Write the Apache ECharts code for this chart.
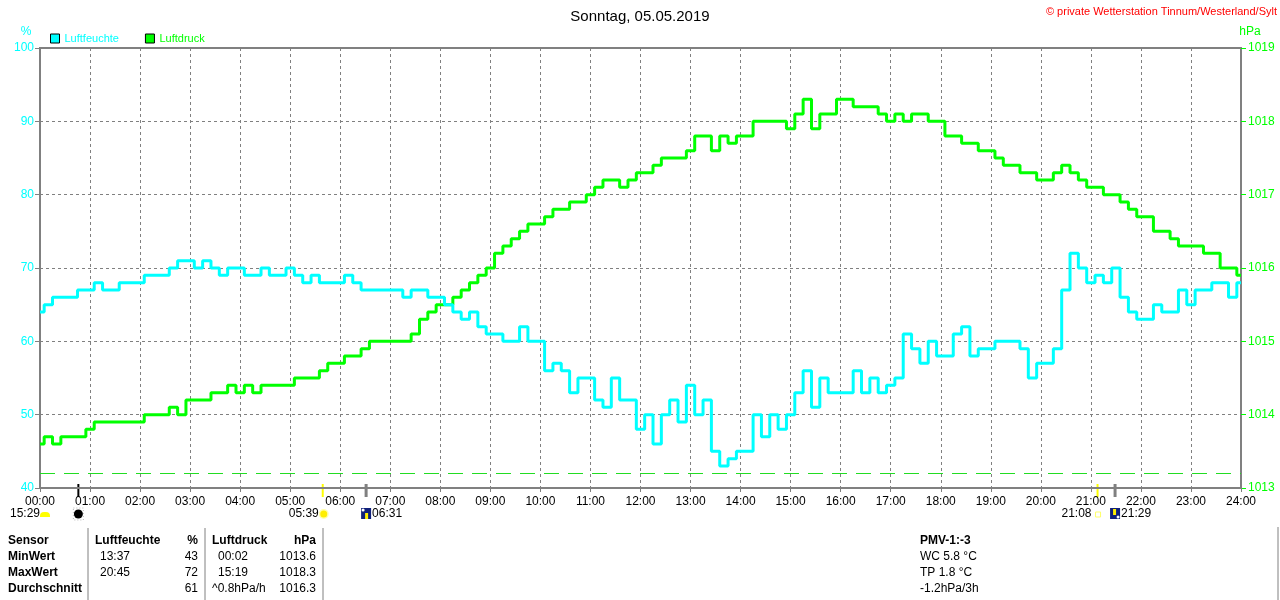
<!DOCTYPE html>
<html>
<head>
<meta charset="utf-8">
<title>Sonntag, 05.05.2019</title>
<script src="https://cdn.jsdelivr.net/npm/echarts@6/dist/echarts.min.js"></script>
<style>
  html, body { margin: 0; padding: 0; background: #fff; }
  #main { width: 1280px; height: 600px; }
</style>
</head>
<body>
<div id="main"></div>
<script>
// Messwerte alle 10 Minuten, 00:00 .. 24:00
const times = [];
for (let m = 0; m <= 1440; m += 10) times.push(m);

const luftfeuchte = [
  64, 65, 66, 66, 66, 67,
  67, 68, 67, 67, 68, 68,
  68, 69, 69, 69, 70, 71,
  71, 70, 71, 70, 69, 70,
  70, 69, 69, 70, 69, 69,
  70, 69, 68, 69, 68, 68,
  68, 69, 68, 67, 67, 67,
  67, 67, 66, 67, 67, 66,
  66, 65, 64, 63, 64, 62,
  61, 61, 60, 60, 62, 60,
  60, 56, 57, 56, 53, 55,
  55, 52, 51, 55, 52, 52,
  48, 50, 46, 50, 52, 49,
  54, 50, 52, 45, 43, 44,
  45, 45, 50, 47, 50, 48,
  50, 53, 56, 51, 55, 53,
  53, 53, 56, 53, 55, 53,
  54, 55, 61, 59, 57, 60,
  58, 58, 61, 62, 58, 59,
  59, 60, 60, 60, 59, 55,
  57, 57, 59, 67, 72, 70,
  68, 69, 68, 70, 66, 64,
  63, 63, 65, 64, 64, 67,
  65, 67, 67, 68, 68, 66,
  68
];

const luftdruck = [
  1013.6, 1013.7, 1013.6, 1013.7, 1013.7, 1013.7,
  1013.8, 1013.9, 1013.9, 1013.9, 1013.9, 1013.9,
  1013.9, 1014.0, 1014.0, 1014.0, 1014.1, 1014.0,
  1014.2, 1014.2, 1014.2, 1014.3, 1014.3, 1014.4,
  1014.3, 1014.4, 1014.3, 1014.4, 1014.4, 1014.4,
  1014.4, 1014.5, 1014.5, 1014.5, 1014.6, 1014.7,
  1014.7, 1014.8, 1014.8, 1014.9, 1015.0, 1015.0,
  1015.0, 1015.0, 1015.0, 1015.1, 1015.3, 1015.4,
  1015.5, 1015.5, 1015.6, 1015.7, 1015.8, 1015.9,
  1016.0, 1016.2, 1016.3, 1016.4, 1016.5, 1016.6,
  1016.6, 1016.7, 1016.8, 1016.8, 1016.9, 1016.9,
  1017.0, 1017.1, 1017.2, 1017.2, 1017.1, 1017.2,
  1017.3, 1017.3, 1017.4, 1017.5, 1017.5, 1017.5,
  1017.6, 1017.8, 1017.8, 1017.6, 1017.8, 1017.7,
  1017.8, 1017.8, 1018.0, 1018.0, 1018.0, 1018.0,
  1017.9, 1018.1, 1018.3, 1017.9, 1018.1, 1018.1,
  1018.3, 1018.3, 1018.2, 1018.2, 1018.2, 1018.1,
  1018.0, 1018.1, 1018.0, 1018.1, 1018.1, 1018.0,
  1018.0, 1017.8, 1017.8, 1017.7, 1017.7, 1017.6,
  1017.6, 1017.5, 1017.4, 1017.4, 1017.3, 1017.3,
  1017.2, 1017.2, 1017.3, 1017.4, 1017.3, 1017.2,
  1017.1, 1017.1, 1017.0, 1017.0, 1016.9, 1016.8,
  1016.7, 1016.7, 1016.5, 1016.5, 1016.4, 1016.3,
  1016.3, 1016.3, 1016.2, 1016.2, 1016.0, 1016.0,
  1015.9
];

// Referenzlinie Luftdruck
const normalDruck = 1013.2;

// Astro-Ereignisse (Minuten seit 00:00)
const mondPhase = 46;          // 00:46
const sonnenAufgang = 339;     // 05:39
const daemmerungMorgen = 391;  // 06:31
const sonnenUntergang = 1268;  // 21:08
const daemmerungAbend = 1289;  // 21:29

// Tabelle unten
const tabelleZeilen = ['Sensor', 'MinWert', 'MaxWert', 'Durchschnitt'];
const feuchteSpalte = [['Luftfeuchte', '%'], ['13:37', '43'], ['20:45', '72'], ['', '61']];
const druckSpalte = [['Luftdruck', 'hPa'], ['00:02', '1013.6'], ['15:19', '1018.3'], ['^0.8hPa/h', '1016.3']];
const pmvZeilen = ['PMV-1:-3', 'WC 5.8 °C', 'TP 1.8 °C', '-1.2hPa/3h'];

const FONT = 'Liberation Sans, Arial, sans-serif';
const CYAN = '#00ffff';
const GREEN = '#00ff00';
const GRAU = '#808080';

const pad = n => (n < 10 ? '0' + n : '' + n);

const chart = echarts.init(document.getElementById('main'));

chart.setOption({
  animation: false,
  backgroundColor: '#ffffff',
  textStyle: { fontFamily: FONT },
  title: {
    text: 'Sonntag, 05.05.2019',
    left: 'center',
    top: 4,
    textStyle: { fontSize: 15, fontWeight: 'normal', color: '#000', fontFamily: FONT }
  },
  legend: {
    left: 50,
    top: 33,
    padding: 0,
    itemWidth: 9,
    itemHeight: 9,
    itemGap: 26,
    icon: 'rect',
    selectedMode: false,
    textStyle: { fontSize: 11, fontFamily: FONT },
    data: [
      { name: 'Luftfeuchte', textStyle: { color: CYAN }, itemStyle: { color: CYAN, borderColor: '#000', borderWidth: 1 } },
      { name: 'Luftdruck', textStyle: { color: GREEN }, itemStyle: { color: GREEN, borderColor: '#000', borderWidth: 1 } }
    ]
  },
  grid: {
    left: 40, right: 39, top: 48, bottom: 112,
    show: true, borderColor: GRAU, borderWidth: 2
  },
  xAxis: {
    type: 'value',
    min: 0, max: 1440, interval: 60,
    axisLine: { lineStyle: { color: GRAU, width: 2 } },
    axisTick: { show: true, length: 4, lineStyle: { color: GRAU } },
    axisLabel: {
      color: '#000', fontSize: 12, margin: 8, fontFamily: FONT,
      formatter: v => pad(v / 60) + ':00'
    },
    splitLine: { show: true, lineStyle: { color: GRAU, type: [3, 3], width: 1 } }
  },
  yAxis: [
    {
      type: 'value', min: 40, max: 100, interval: 10,
      axisLine: { show: true, lineStyle: { color: GRAU, width: 2 } },
      axisTick: { show: true, length: 5, lineStyle: { color: GRAU } },
      axisLabel: { color: CYAN, fontSize: 12, margin: 6, fontFamily: FONT },
      splitLine: { show: true, lineStyle: { color: GRAU, type: [3, 3], width: 1 } }
    },
    {
      type: 'value', min: 1013, max: 1019, interval: 1,
      position: 'right',
      axisLine: { show: true, lineStyle: { color: GRAU, width: 2 } },
      axisTick: { show: true, length: 5, lineStyle: { color: GREEN } },
      axisLabel: { color: GREEN, fontSize: 12, margin: 7, fontFamily: FONT, formatter: v => String(v) },
      splitLine: { show: false }
    }
  ],
  series: [
    {
      name: 'Luftdruck',
      type: 'line',
      yAxisIndex: 1,
      step: 'middle',
      showSymbol: false,
      color: GREEN,
      lineStyle: { color: GREEN, width: 3 },
      data: times.map((t, i) => [t, luftdruck[i]]),
      markLine: {
        silent: true,
        symbol: 'none',
        label: { show: false },
        itemStyle: { color: '#22dd22' },
        lineStyle: { color: '#22dd22', type: [15, 9], width: 1 },
        emphasis: { disabled: true },
        data: [{ yAxis: normalDruck }]
      }
    },
    {
      name: 'Luftfeuchte',
      type: 'line',
      yAxisIndex: 0,
      step: 'middle',
      showSymbol: false,
      color: CYAN,
      lineStyle: { color: CYAN, width: 3 },
      data: times.map((t, i) => [t, luftfeuchte[i]])
    }
  ]
});

// Zusätzliche Elemente (Beschriftungen, Astro-Marker, Tabelle)
const px = m => chart.convertToPixel({ xAxisIndex: 0 }, m);
const yAxisBottom = 488;
const g = [];

const text = (x, y, str, opt = {}) => g.push({
  type: 'text', x, y, silent: true,
  style: Object.assign({
    text: str, fill: '#000', font: '12px ' + FONT,
    textAlign: 'left', textVerticalAlign: 'middle'
  }, opt)
});
const line = (x1, y1, x2, y2, color, width) => g.push({
  type: 'line', silent: true,
  shape: { x1, y1, x2, y2 },
  style: { stroke: color, lineWidth: width }
});

// Achsentitel
text(26, 32, '%', { fill: CYAN, font: '12px ' + FONT, textAlign: 'center' });
text(1250, 32, 'hPa', { fill: GREEN, font: '12px ' + FONT, textAlign: 'center' });
// Copyright
text(1277, 12, '© private Wetterstation Tinnum/Westerland/Sylt', { fill: '#ff0000', font: '11px ' + FONT, textAlign: 'right' });

// Astro-Ticks an der Zeitachse
line(px(mondPhase), yAxisBottom - 4, px(mondPhase), yAxisBottom + 9, '#000', 2);
line(px(sonnenAufgang), yAxisBottom - 4, px(sonnenAufgang), yAxisBottom + 9, '#ffff00', 2);
line(px(daemmerungMorgen), yAxisBottom - 4, px(daemmerungMorgen), yAxisBottom + 9, GRAU, 3);
line(px(sonnenUntergang), yAxisBottom - 4, px(sonnenUntergang), yAxisBottom + 9, '#ffff00', 2);
line(px(daemmerungAbend), yAxisBottom - 4, px(daemmerungAbend), yAxisBottom + 9, GRAU, 3);

const astroY = 514;
// Mondaufgang Vortag 15:29
text(10, astroY, '15:29');
g.push({ type: 'rect', silent: true, shape: { x: 40, y: astroY - 2, width: 10, height: 5, r: [4, 4, 0, 0] }, style: { fill: '#ffff00' } });
// Mondphase
g.push({ type: 'rect', silent: true, shape: { x: px(mondPhase) - 5, y: astroY - 6, width: 10, height: 12 }, style: { fill: 'none', stroke: '#bbbbbb', lineWidth: 1, lineDash: [1, 2] } });
g.push({ type: 'circle', silent: true, shape: { cx: px(mondPhase), cy: astroY, r: 4.5 }, style: { fill: '#000' } });
// Sonnenaufgang
text(px(sonnenAufgang) - 4, astroY, '05:39', { textAlign: 'right' });
g.push({ type: 'circle', silent: true, shape: { cx: px(sonnenAufgang) + 1, cy: astroY, r: 5 }, style: { fill: '#ffffaa' } });
g.push({ type: 'circle', silent: true, shape: { cx: px(sonnenAufgang) + 1, cy: astroY, r: 3.5 }, style: { fill: '#ffee00' } });
// Dämmerung morgens
g.push({ type: 'rect', silent: true, shape: { x: px(daemmerungMorgen) - 5, y: astroY - 6, width: 10, height: 11 }, style: { fill: '#10207a' } });
g.push({ type: 'rect', silent: true, shape: { x: px(daemmerungMorgen) - 1, y: astroY - 1, width: 3, height: 6 }, style: { fill: '#ffee00' } });
g.push({ type: 'circle', silent: true, shape: { cx: px(daemmerungMorgen) - 3, cy: astroY - 4, r: 1.5 }, style: { fill: '#ffffff' } });
text(px(daemmerungMorgen) + 6, astroY, '06:31');
// Sonnenuntergang
text(px(sonnenUntergang) - 6, astroY, '21:08', { textAlign: 'right' });
g.push({ type: 'rect', silent: true, shape: { x: px(sonnenUntergang) - 2, y: astroY - 2, width: 5, height: 5 }, style: { fill: 'none', stroke: '#ffff66', lineWidth: 1 } });
// Dämmerung abends
g.push({ type: 'rect', silent: true, shape: { x: px(daemmerungAbend) - 5, y: astroY - 6, width: 10, height: 11 }, style: { fill: '#10207a' } });
g.push({ type: 'rect', silent: true, shape: { x: px(daemmerungAbend) - 2, y: astroY - 5, width: 3, height: 6 }, style: { fill: '#ffee00' } });
g.push({ type: 'circle', silent: true, shape: { cx: px(daemmerungAbend) + 3, cy: astroY + 3, r: 1.5 }, style: { fill: '#ffffff' } });
text(px(daemmerungAbend) + 6, astroY, '21:29');

// Tabelle
const zeilenY = [541, 557, 573, 589];
const bold = 'bold 12px ' + FONT;
tabelleZeilen.forEach((t, i) => text(8, zeilenY[i], t, { font: bold }));
feuchteSpalte.forEach((z, i) => {
  const f = i === 0 ? bold : '12px ' + FONT;
  text(i === 0 ? 95 : 100, zeilenY[i], z[0], { font: f });
  text(198, zeilenY[i], z[1], { font: f, textAlign: 'right' });
});
druckSpalte.forEach((z, i) => {
  const f = i === 0 ? bold : '12px ' + FONT;
  const lx = (i === 0 || i === 3) ? 212 : 218;
  text(lx, zeilenY[i], z[0], { font: f });
  text(316, zeilenY[i], z[1], { font: f, textAlign: 'right' });
});
pmvZeilen.forEach((t, i) => text(920, zeilenY[i], t, { font: i === 0 ? bold : '12px ' + FONT }));
[88, 205, 323].forEach(x => line(x, 528, x, 600, GRAU, 1));
line(1278, 527, 1278, 600, GRAU, 1);

chart.setOption({ graphic: g });
</script>
</body>
</html>
